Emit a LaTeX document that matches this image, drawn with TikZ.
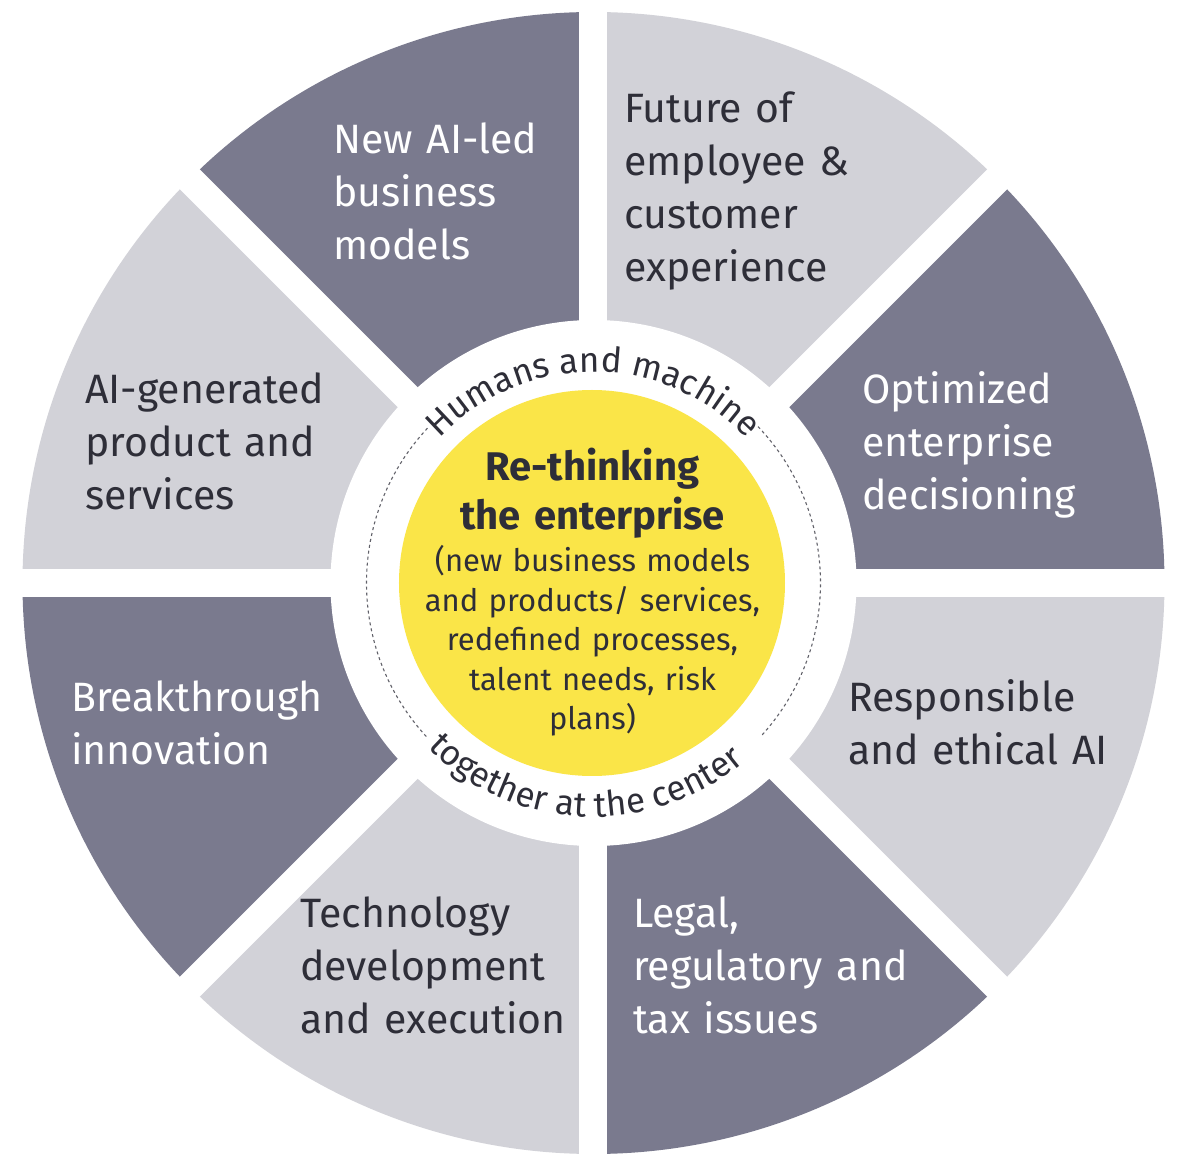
\documentclass[tikz,border=0pt]{standalone}
\usepackage{fontspec}
\setmainfont{Fira Sans}
\usepackage{tikz}
\usetikzlibrary{decorations.text}
\definecolor{slate}{RGB}{122,122,142}
\definecolor{mist}{RGB}{210,210,216}
\definecolor{eyyellow}{RGB}{250,229,72}
\definecolor{ink}{RGB}{46,46,56}

\begin{document}
\begin{tikzpicture}[x=1pt, y=1pt,
  label/.style={anchor=base west, inner sep=0pt, text width=340pt, align=left, font=\fontsize{41}{53}\selectfont},
  ondark/.style={label, text=white},
  onlight/.style={label, text=ink},
  gap/.style={white, line width=28pt},
  ringdash/.style={draw=ink!75, line width=1.1pt, dash pattern=on 3pt off 3pt},
  centertext/.style={anchor=base, inner sep=0pt, text width=380pt, align=center, text=ink}]

\fill[white] (-593.5,-589) rectangle (590.5,583);
\useasboundingbox (-593.5,-589) rectangle (590.5,583);

% wedges, gaps and the inner ring
\foreach \a/\c in {0/slate,45/mist,90/slate,135/mist,180/slate,225/mist,270/slate,315/mist}
  \fill[\c] (0,0) -- (\a:571) arc[start angle=\a, end angle=\a+45, radius=571pt] -- cycle;
\foreach \a in {0,45,90,135}
  \draw[gap] (\a:600) -- (\a+180:600);
\fill[white] (0,0) circle[radius=263pt];
\fill[eyyellow] (-1.5,0) circle[radius=193pt];

\draw[ringdash] (137:227) arc[start angle=137, end angle=223, radius=227pt];
\draw[ringdash] (-42:227) arc[start angle=-42, end angle=44, radius=227pt];

% curved texts
\path[decorate, decoration={text along path, text align=center, text color=ink,
  text={|\fontsize{35}{40}\selectfont|Humans and machine}}]
  (160:211) arc[start angle=160, end angle=20, radius=211pt];
\path[decorate, decoration={text along path, text align=center, text color=ink,
  text={|\fontsize{35}{40}\selectfont|together at the center}}]
  (197.5:234) arc[start angle=197.5, end angle=337.5, radius=234pt];

% sector labels
\node[ondark] (newmodels) at (-260.5,429) {New AI-led\\business\\models};
\node[onlight] (future) at (30.5,460) {Future of\\employee \&\\customer\\experience};
\node[ondark] (decision) at (268.5,179) {Optimized\\enterprise\\decisioning};
\node[onlight] (responsible) at (254.5,-129) {Responsible\\and ethical AI};
\node[ondark] (legal) at (39.5,-344) {Legal,\\regulatory and\\tax issues};
\node[onlight] (techdev) at (-293.5,-344) {Technology\\development\\and execution};
\node[ondark] (breakthrough) at (-522.5,-129) {Breakthrough\\innovation};
\node[onlight] (aigen) at (-508.5,179) {AI-generated\\product and\\services};

% centre
\node[centertext, font=\bfseries\fontsize{40}{49}\selectfont] (title) at (-1,102) {Re-thinking\\the enterprise};
\node[centertext, font=\fontsize{31}{39.5}\selectfont] (detail) at (-1,11)
  {(new business models\\and products/ services,\\redefined processes,\\talent needs, risk\\plans)};
\end{tikzpicture}
\end{document}
